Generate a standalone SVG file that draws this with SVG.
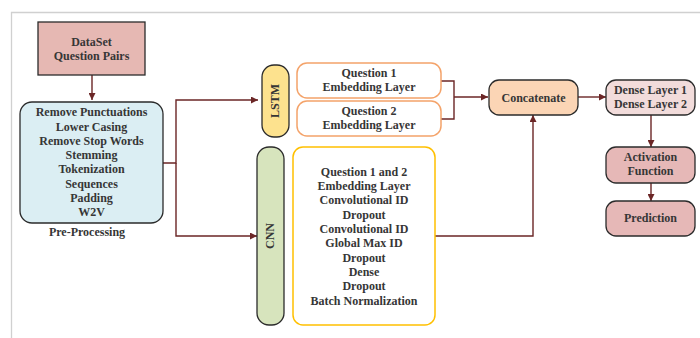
<svg xmlns="http://www.w3.org/2000/svg" width="700" height="338" viewBox="0 0 700 338">
<style>
text{font-family:"Liberation Serif","Times New Roman",serif;font-weight:bold;font-size:12px;fill:#363636;text-anchor:middle}
.c{fill:none;stroke:#6b2626;stroke-width:1.4}
.dk{stroke:#2b2b2b;stroke-width:1.3}
</style>
<defs>
<marker id="ah" viewBox="0 0 10 10" refX="10" refY="5" markerWidth="7" markerHeight="7" markerUnits="userSpaceOnUse" orient="auto">
<path d="M0,0 L10,5 L0,10 z" fill="#6b2626"/>
</marker>
</defs>
<rect width="700" height="338" fill="#fff"/>
<path d="M11.5,338 V12.5 H700" fill="none" stroke="#d0d0d0" stroke-width="1.3"/>

<g id="connectors">
<path class="c" d="M92,75 V100" marker-end="url(#ah)"/>
<path class="c" d="M163,163 H176 V100 H258" marker-end="url(#ah)"/>
<path class="c" d="M176,163 V236 H257" marker-end="url(#ah)"/>
<path class="c" d="M441,81 H454 V119 H441"/>
<path class="c" d="M454,97 H488" marker-end="url(#ah)"/>
<path class="c" d="M578,97 H606" marker-end="url(#ah)"/>
<path class="c" d="M435,236 H533 V115" marker-end="url(#ah)"/>
<path class="c" d="M651,115 V147" marker-end="url(#ah)"/>
<path class="c" d="M651,183 V201" marker-end="url(#ah)"/>
</g>

<g id="dataset">
<rect x="38" y="22" width="107" height="53" fill="#e6b8b3" class="dk"/>
<text x="91.5" y="46">DataSet</text>
<text x="91.5" y="60">Question Pairs</text>
</g>

<g id="preprocessing">
<rect x="20" y="102" width="143" height="121" rx="12" fill="#dbeef3" class="dk"/>
<text x="91.5" y="116">Remove Punctuations</text>
<text x="91.5" y="130.5">Lower Casing</text>
<text x="91.5" y="145">Remove Stop Words</text>
<text x="91.5" y="159">Stemming</text>
<text x="91.5" y="173">Tokenization</text>
<text x="91.5" y="188">Sequences</text>
<text x="91.5" y="202">Padding</text>
<text x="91.5" y="216">W2V</text>
<text x="87" y="236">Pre-Processing</text>
</g>

<g id="lstm">
<rect x="262" y="65" width="27" height="72" rx="12" fill="#fde28e" class="dk"/>
<text transform="translate(278.5,101) rotate(-90)">LSTM</text>
</g>

<g id="q1">
<rect x="297" y="63" width="144" height="35" rx="10" fill="#fff" stroke="#f4a36a" stroke-width="1.5"/>
<text x="369" y="77">Question 1</text>
<text x="369" y="91">Embedding Layer</text>
</g>

<g id="q2">
<rect x="297" y="101" width="144" height="35" rx="10" fill="#fff" stroke="#f4a36a" stroke-width="1.5"/>
<text x="369" y="115">Question 2</text>
<text x="369" y="129">Embedding Layer</text>
</g>

<g id="cnn">
<rect x="257" y="147" width="27" height="178" rx="12" fill="#d7e4bd" class="dk"/>
<text transform="translate(274,236) rotate(-90)">CNN</text>
</g>

<g id="cnnlayers">
<rect x="293" y="147" width="142" height="178" rx="10" fill="#fff" stroke="#ffc000" stroke-width="1.5"/>
<text x="364" y="176">Question 1 and 2</text>
<text x="364" y="190">Embedding Layer</text>
<text x="364" y="204">Convolutional ID</text>
<text x="364" y="219">Dropout</text>
<text x="364" y="233">Convolutional ID</text>
<text x="364" y="247">Global Max ID</text>
<text x="364" y="262">Dropout</text>
<text x="364" y="276">Dense</text>
<text x="364" y="290">Dropout</text>
<text x="364" y="305">Batch Normalization</text>
</g>

<g id="concatenate">
<rect x="489" y="80" width="89" height="35" rx="10" fill="#fbd5b5" class="dk"/>
<text x="533.5" y="101.5">Concatenate</text>
</g>

<g id="dense">
<rect x="606" y="80" width="89" height="35" rx="10" fill="#f2dcdb" class="dk"/>
<text x="650.5" y="94">Dense Layer 1</text>
<text x="650.5" y="108">Dense Layer 2</text>
</g>

<g id="activation">
<rect x="606" y="147" width="89" height="36" rx="10" fill="#e6b8b7" class="dk"/>
<text x="650.5" y="161">Activation</text>
<text x="650.5" y="175">Function</text>
</g>

<g id="prediction">
<rect x="606" y="201" width="89" height="35" rx="10" fill="#e6b8b7" class="dk"/>
<text x="650.5" y="222">Prediction</text>
</g>
</svg>
